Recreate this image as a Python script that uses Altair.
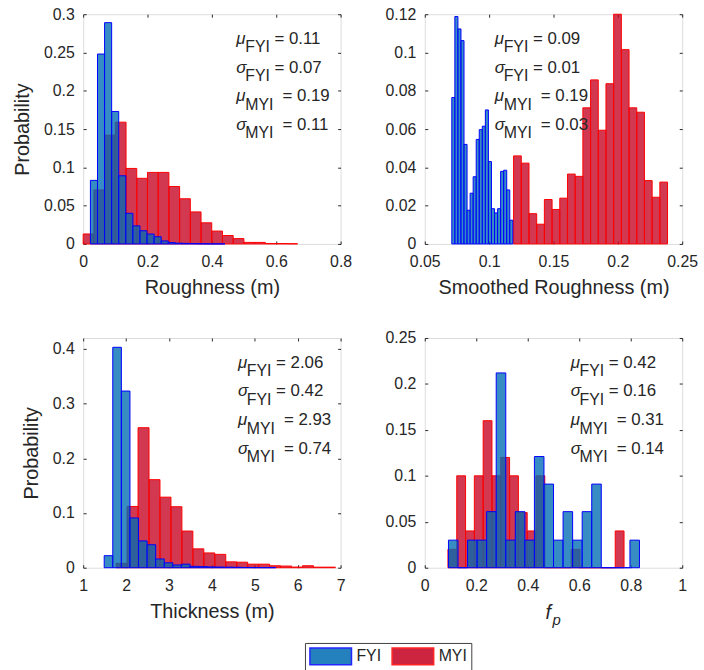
import altair as alt
import pandas as pd

FONT = "Liberation Sans"
TXT = "#262626"
FYI_FILL, MYI_FILL = "#006BB3", "#C5001F"
FYI_EDGE, MYI_EDGE = "#0000FF", "#FF0000"
W, H = 260, 232

# ---------------- data (bin start, bin width, probabilities) ----------------
rough_fyi_start, rough_fyi_width = 0.0225, 0.022
rough_fyi = [0.083, 0.248, 0.289, 0.173, 0.089, 0.040, 0.0236, 0.0172, 0.0129,
             0.0094, 0.0039, 0.0017, 0.001, 0.0007, 0.0005, 0.0003, 0.0002, 0.0001, 0.0001]
rough_myi_start, rough_myi_width = 0.0, 0.0333
rough_myi = [0.013, 0.0705, 0.142, 0.159, 0.0986, 0.0857, 0.0934, 0.0934, 0.075, 0.059,
             0.0418, 0.0276, 0.0168, 0.011, 0.007, 0.002, 0.002, 0.0005, 0.0005, 0.0003]

smooth_fyi_start, smooth_fyi_width = 0.071, 0.00237
smooth_fyi = [0.0765, 0.1188, 0.1123, 0.1062, 0.052, 0.0176, 0.0265, 0.0351, 0.0546, 0.0597,
              0.0615, 0.070, 0.043, 0.0184, 0.0162, 0.0184, 0.0379, 0.0385, 0.0282, 0.0124]
smooth_myi_start, smooth_myi_width = 0.119, 0.00598
smooth_myi = [0.046, 0.0422, 0.0158, 0.0103, 0.0232, 0.018, 0.0239, 0.0365, 0.0353, 0.0711,
              0.0857, 0.0594, 0.0837, 0.12, 0.1015, 0.0711, 0.0688, 0.0331, 0.0244, 0.0323]

thick_fyi_start, thick_fyi_width = 1.49, 0.2
thick_fyi = [0.022, 0.403, 0.323, 0.091, 0.049, 0.042, 0.016, 0.009, 0.005, 0.0065,
             0.0025, 0.002, 0.0015, 0.0012, 0.001, 0.0008, 0.0005, 0.0003, 0.0002, 0.0002]
thick_myi_start, thick_myi_width = 1.768, 0.2555
thick_myi = [0.008, 0.112, 0.256, 0.161, 0.129, 0.1115, 0.067, 0.0345, 0.027, 0.0244,
             0.0107, 0.0101, 0.0065, 0.0065, 0.0036, 0.003, 0.0012, 0.0036, 0.001, 0.001]

fp_fyi_start, fp_fyi_width = 0.092, 0.0371
fp_fyi = [0.030, 0, 0.030, 0.030, 0.061, 0.212, 0.030, 0.061, 0.030, 0.121,
          0.091, 0.030, 0.061, 0.030, 0.061, 0.091, 0, 0, 0, 0.030]
fp_myi_start, fp_myi_width = 0.090, 0.0342
fp_myi = [0.02, 0.10, 0.04, 0.10, 0.16, 0.10, 0.12, 0.10, 0.06, 0.04,
          0.10, 0, 0, 0, 0.02, 0, 0, 0, 0, 0.04]

stat_names = ["\u03bc", "\u03c3", "\u03bc", "\u03c3"]
stat_subs = ["FYI", "FYI", "MYI", "MYI"]
stats_rough = ["0.11", "0.07", "0.19", "0.11"]
stats_smooth = ["0.09", "0.01", "0.19", "0.03"]
stats_thick = ["2.06", "0.42", "2.93", "0.74"]
stats_fp = ["0.42", "0.16", "0.31", "0.14"]

series_order = ["FYI", "MYI"]


def bar_rows(start, width, heights, series):
    return [{"x0": start + i * width, "x1": start + (i + 1) * width, "p": h, "base": 0.0,
             "series": series}
            for i, h in enumerate(heights)]


# wide rectangle swatch: nominal symbol size 17 px, drawn 42 px wide to the right
legend = alt.Legend(
    title=None, orient="none", legendX=224, legendY=635, direction="horizontal", columns=2,
    symbolType="M-1,-1L3.94,-1L3.94,1L-1,1Z", symbolSize=289, symbolStrokeWidth=1.5,
    symbolOpacity=0.85,
    labelFont=FONT, labelFontSize=16, labelColor=TXT, labelOffset=29, columnPadding=8,
    padding=4, strokeColor="#404040", fillColor="white",
)


def to_data(px, py, xdom, ydom):
    return (xdom[0] + px / W * (xdom[1] - xdom[0]), ydom[1] - py / H * (ydom[1] - ydom[0]))


def make_axes(xticks, yticks, xtitle, ytitle):
    xaxis = alt.Axis(values=xticks, title=xtitle, format=".2~f", labelFlush=False, labelOverlap=False,
                     labelFont=FONT, labelFontSize=16, labelColor=TXT, labelPadding=10,
                     ticks=False, domain=False, grid=True, gridColor=TXT, gridWidth=1,
                     gridDash=[3, H - 6, 3, 3000], titleFont=FONT, titleFontSize=20,
                     titleFontWeight="normal", titleColor=TXT, titlePadding=8)
    yaxis = alt.Axis(values=yticks, title=ytitle, format=".2~f", labelOverlap=False,
                     labelFlush=False, labelBound=False,
                     labelFont=FONT, labelFontSize=16, labelColor=TXT, labelPadding=9,
                     ticks=False, domain=False, grid=True, gridColor=TXT, gridWidth=1,
                     gridDash=[3, W - 6, 3, 3000], titleFont=FONT, titleFontSize=20,
                     titleFontWeight="normal", titleColor=TXT, titlePadding=11)
    return xaxis, yaxis


def text_layer(rows, xdom, ydom, axes, size, italic=False):
    recs = []
    for px, py, t in rows:
        xd, yd = to_data(px, py, xdom, ydom)
        recs.append({"x0": xd, "p": yd, "t": t})
    kw = dict(align="left", baseline="alphabetic", font=FONT, fontSize=size, color=TXT)
    if italic:
        kw["fontStyle"] = "italic"
    return alt.Chart(pd.DataFrame(recs)).mark_text(**kw).encode(
        x=alt.X("x0:Q", axis=axes[0]), y=alt.Y("p:Q", axis=axes[1]), text="t:N")


def panel(fyi, myi, xdom, xticks, ydom, yticks, xtitle, ytitle, stats, ax0, extra=()):
    axes = make_axes(xticks, yticks, xtitle, ytitle)
    df = pd.DataFrame(bar_rows(*myi, "MYI") + bar_rows(*fyi, "FYI"))
    bars = alt.Chart(df).mark_bar(fillOpacity=0.78, strokeWidth=1).encode(
        x=alt.X("x0:Q", scale=alt.Scale(domain=xdom, nice=False, zero=False), axis=axes[0]),
        x2="x1:Q",
        y=alt.Y("p:Q", scale=alt.Scale(domain=ydom, nice=False, zero=False), axis=axes[1], stack=None),
        y2="base:Q",
        fill=alt.Fill("series:N", scale=alt.Scale(domain=series_order, range=[FYI_FILL, MYI_FILL]),
                      legend=legend),
        stroke=alt.Stroke("series:N", scale=alt.Scale(domain=series_order, range=[FYI_EDGE, MYI_EDGE]),
                          legend=legend),
    )
    g_rows, s_rows, v_rows = [], [], []
    for i in range(4):
        yb = 30 + 29 * i
        g_rows.append((ax0, yb, stat_names[i]))
        s_rows.append((ax0 + 9, yb + 8.5, stat_subs[i]))
        v_rows.append((ax0 + (38.5 if stat_subs[i] == "FYI" else 46.5), yb, "= " + stats[i]))
    layers = [bars,
              text_layer(g_rows, xdom, ydom, axes, 17, italic=True),
              text_layer(s_rows, xdom, ydom, axes, 16),
              text_layer(v_rows, xdom, ydom, axes, 17)]
    for rows, size, italic in extra:
        layers.append(text_layer(rows, xdom, ydom, axes, size, italic))
    return alt.layer(*layers).properties(width=W, height=H)


p1 = panel((rough_fyi_start, rough_fyi_width, rough_fyi),
           (rough_myi_start, rough_myi_width, rough_myi),
           [0, 0.8], [0, 0.2, 0.4, 0.6, 0.8], [0, 0.3],
           [0, 0.05, 0.1, 0.15, 0.2, 0.25, 0.3],
           "Roughness (m)", "Probability", stats_rough, 154.7)

p2 = panel((smooth_fyi_start, smooth_fyi_width, smooth_fyi),
           (smooth_myi_start, smooth_myi_width, smooth_myi),
           [0.05, 0.25], [0.05, 0.1, 0.15, 0.2, 0.25], [0, 0.12],
           [0, 0.02, 0.04, 0.06, 0.08, 0.1, 0.12],
           "Smoothed Roughness (m)", None, stats_smooth, 70.7)

p3 = panel((thick_fyi_start, thick_fyi_width, thick_fyi),
           (thick_myi_start, thick_myi_width, thick_myi),
           [1, 7], [1, 2, 3, 4, 5, 6, 7], [0, 0.42],
           [0, 0.1, 0.2, 0.3, 0.4],
           "Thickness (m)", "Probability", stats_thick, 156.3)

p4 = panel((fp_fyi_start, fp_fyi_width, fp_fyi),
           (fp_myi_start, fp_myi_width, fp_myi),
           [0, 1], [0, 0.2, 0.4, 0.6, 0.8, 1], [0, 0.25],
           [0, 0.05, 0.1, 0.15, 0.2, 0.25],
           None, None, stats_fp, 147.3,
           extra=[([(122, H + 52, "f")], 20, True), ([(129, H + 58, "p")], 15, True)])

chart = alt.concat(p1, p2, p3, p4, columns=2, spacing={"row": 95, "column": 85},
                   bounds="flush").resolve_scale(
    x="independent", y="independent", fill="shared", stroke="shared"
).properties(
    padding={"left": 12, "top": 2, "right": 5, "bottom": 0}, background="white"
).configure_view(stroke="#404040", strokeWidth=1).configure(font=FONT)

chart.save("out.html", embed_options={"renderer": "svg", "actions": False})
